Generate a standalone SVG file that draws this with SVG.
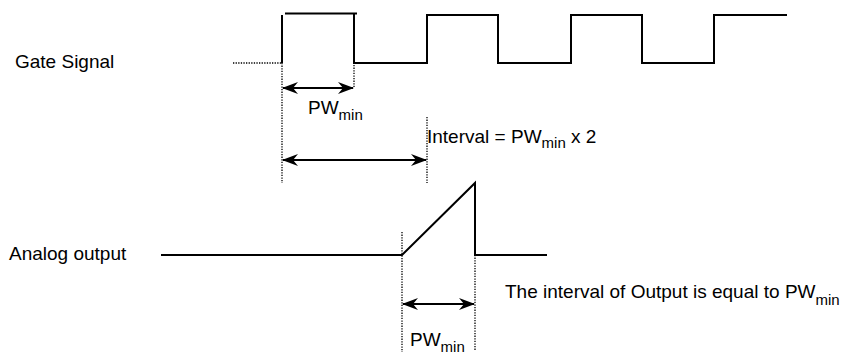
<svg xmlns="http://www.w3.org/2000/svg" width="850" height="361" viewBox="0 0 850 361">
<style>
  .sig { fill: none; stroke: #000; stroke-width: 2; stroke-linejoin: miter; }
  .dot { fill: none; stroke: #000; stroke-width: 1.3; stroke-dasharray: 1.3 1.3; }
  .arr { fill: none; stroke: #000; stroke-width: 2; marker-start: url(#ah); marker-end: url(#ah); }
  text { font-family: "Liberation Sans", Arial, Helvetica, sans-serif; font-size: 19px; fill: #000; }
  .sub { font-size: 15px; }
</style>
<defs>
  <marker id="ah" viewBox="0 0 16 12" refX="15" refY="6" markerWidth="16" markerHeight="12" markerUnits="userSpaceOnUse" orient="auto-start-reverse">
    <path d="M0,0 L16,6 L0,12 L5,6 z" fill="#000"/>
  </marker>
</defs>
<rect width="850" height="361" fill="#fff"/>

<g id="gate-label"><text x="15" y="68">Gate Signal</text></g>
<g id="analog-label"><text x="9" y="260" font-size="19.5">Analog output</text></g>

<g id="gate-signal">
  <line class="dot" x1="233" y1="63" x2="282" y2="63"/>
  <path class="sig" d="M282,63 L282,15"/>
  <path class="sig" d="M285,13.5 L357,13.5"/>
  <path class="sig" d="M354,14 L354,63 L427,63 L427,15 L498,15 L498,63 L571,63 L571,15 L642,15 L642,63 L714,63 L714,15 L787,15"/>
</g>

<g id="analog-signal">
  <path class="sig" d="M161,255 L402,255 L475,183 L475,255 L547,255"/>
</g>

<g id="connectors">
  <line class="dot" x1="282" y1="63" x2="282" y2="183"/>
  <line class="dot" x1="354" y1="52" x2="354" y2="88"/>
  <line class="dot" x1="427" y1="117" x2="427" y2="183"/>
  <line class="dot" x1="402" y1="232" x2="402" y2="352"/>
  <line class="dot" x1="475" y1="255" x2="475" y2="350"/>
  <line class="arr" x1="283" y1="88" x2="353" y2="88"/>
  <line class="arr" x1="283" y1="160" x2="426" y2="160"/>
  <line class="arr" x1="403" y1="304" x2="474" y2="304"/>
</g>

<g id="pw-label-1"><text x="308" y="114">PW<tspan class="sub" dy="5.5">min</tspan></text></g>
<g id="interval-label"><text x="427" y="143">Interval = PW<tspan class="sub" dy="5">min</tspan><tspan dy="-5"> x 2</tspan></text></g>
<g id="pw-label-2"><text x="410" y="346">PW<tspan class="sub" dy="6">min</tspan></text></g>
<g id="output-label"><text x="505" y="298" font-size="19.5">The interval of Output is equal to PW<tspan class="sub" dy="6.5">min</tspan></text></g>
</svg>
